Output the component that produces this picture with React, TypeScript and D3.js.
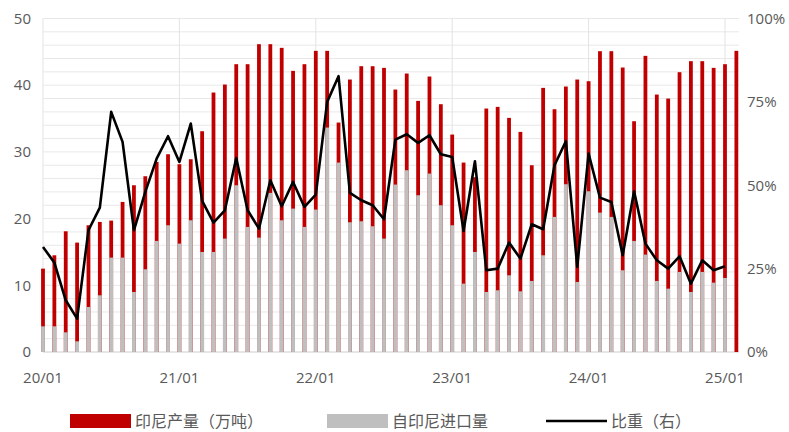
import React from "react";
import * as d3 from "d3";

const categories: string[] = [
  "2020-01","2020-02","2020-03","2020-04","2020-05","2020-06","2020-07","2020-08","2020-09","2020-10","2020-11","2020-12",
  "2021-01","2021-02","2021-03","2021-04","2021-05","2021-06","2021-07","2021-08","2021-09","2021-10","2021-11","2021-12",
  "2022-01","2022-02","2022-03","2022-04","2022-05","2022-06","2022-07","2022-08","2022-09","2022-10","2022-11","2022-12",
  "2023-01","2023-02","2023-03","2023-04","2023-05","2023-06","2023-07","2023-08","2023-09","2023-10","2023-11","2023-12",
  "2024-01","2024-02","2024-03","2024-04","2024-05","2024-06","2024-07","2024-08","2024-09","2024-10","2024-11","2024-12",
  "2025-01","2025-02",
];

// 印尼产量（万吨）
const production: number[] = [
  12.5, 14.5, 18.1, 16.4, 19.0, 19.5, 19.7, 22.5, 25.0, 26.35, 28.5, 29.65,
  28.15, 28.9, 33.1, 38.9, 40.1, 43.15, 43.15, 46.15, 46.15, 45.6, 42.15, 43.15,
  45.15, 45.15, 34.4, 40.85, 42.85, 42.85, 42.6, 39.35, 41.75, 37.65, 41.3, 37.15,
  32.6, 28.4, 26.2, 36.5, 36.75, 35.1, 33.0, 28.0, 39.6, 36.4, 39.8, 40.85,
  40.6, 45.1, 45.1, 42.65, 34.6, 44.4, 38.6, 38.0, 41.95, 43.6, 43.6, 42.6,
  43.15, 45.15,
];

// 自印尼进口量
const imports: (number | null)[] = [
  3.85, 3.85, 2.95, 1.6, 6.75, 8.5, 14.15, 14.15, 9.0, 12.4, 16.65, 19.0,
  16.25, 19.75, 15.0, 15.0, 17.0, 25.0, 18.75, 17.15, 23.85, 19.75, 21.5, 18.75,
  21.35, 33.65, 28.4, 19.45, 19.6, 18.85, 17.0, 25.1, 27.25, 23.5, 26.75, 22.0,
  19.0, 10.25, 15.0, 9.0, 9.25, 11.5, 9.1, 10.65, 14.5, 20.25, 25.15, 10.5,
  24.1, 20.9, 20.25, 12.25, 16.65, 14.6, 10.65, 9.5, 12.0, 9.0, 12.0, 10.4,
  11.1, null,
];

// 比重（右）, %
const ratio: (number | null)[] = [
  31.5, 26.8, 15.5, 10.0, 36.5, 43.3, 72.0, 63.0, 36.5, 48.0, 58.0, 64.7,
  57.0, 68.5, 45.3, 38.8, 42.5, 58.2, 42.5, 37.0, 51.5, 43.7, 51.0, 43.5,
  47.2, 75.0, 82.7, 47.7, 45.5, 44.0, 39.8, 63.7, 65.3, 62.7, 65.0, 59.3,
  58.5, 36.3, 57.2, 24.5, 25.0, 32.8, 28.0, 38.3, 36.8, 56.0, 63.2, 25.5,
  59.5, 46.3, 45.0, 29.0, 48.2, 32.5, 27.5, 25.0, 28.7, 20.5, 27.5, 24.5,
  25.7, null,
];

const xTickLabels: string[] = ["20/01", "21/01", "22/01", "23/01", "24/01", "25/01"];
const xTickCats: string[] = ["2020-01", "2021-01", "2022-01", "2023-01", "2024-01", "2025-01"];
const leftTicks: number[] = [0, 10, 20, 30, 40, 50];
const rightTicks: number[] = [0, 25, 50, 75, 100];
const legendLabels: string[] = ["印尼产量（万吨）", "自印尼进口量", "比重（右）"];

const W = 789;
const H = 432;
const RED = "#C00000";
const GREY = "#BFBFBF";
const TXT = "#595959";
const NUM_FONT = "'Open Sans', 'Noto Sans', sans-serif";
const CJK_FONT = "'Noto Sans CJK SC', sans-serif";

export default function App() {
  const x = d3.scaleLinear().domain([0, 60]).range([43, 725]);
  const xi = (c: string) => x(categories.indexOf(c));
  const y = d3.scaleLinear().domain([0, 50]).range([352, 18.5]);
  const yR = d3.scaleLinear().domain([0, 100]).range([352, 18.5]);
  const barW = 3.8;
  const grid = d3.range(0, 51, 2);

  const line = d3
    .line<number | null>()
    .defined((d) => d != null)
    .x((_, i) => x(i))
    .y((d) => yR(d as number));

  return (
    <div style={{ position: "fixed", left: 0, top: 0, width: W, height: H, background: "#fff" }}>
      <svg width={W} height={H} style={{ display: "block" }}>
        {/* horizontal grid */}
        {grid.map((g) => (
          <line key={"g" + g} x1={43} x2={739} y1={y(g)} y2={y(g)} stroke="#E8E8E8" strokeWidth={1} />
        ))}
        {/* vertical year grid */}
        {xTickCats.map((c) => (
          <line key={"v" + c} x1={xi(c)} x2={xi(c)} y1={y(50)} y2={y(0)} stroke="#E3E3E3" strokeWidth={1} />
        ))}
        <line x1={43} x2={739} y1={y(0)} y2={y(0)} stroke="#D9D9D9" strokeWidth={1} />

        {/* red production bars */}
        {production.map((v, i) => (
          <rect key={"r" + i} x={x(i) - barW / 2} width={barW} y={y(v)} height={y(0) - y(v)} fill={RED} />
        ))}
        {/* grey import bars */}
        {imports.map((v, i) =>
          v == null ? null : (
            <rect key={"i" + i} x={x(i) - barW / 2} width={barW} y={y(v)} height={y(0) - y(v)} fill={GREY} />
          )
        )}
        {/* ratio line */}
        <path d={line(ratio) || ""} fill="none" stroke="#000" strokeWidth={2.6} strokeLinejoin="round" />

        {/* left axis labels */}
        {leftTicks.map((t) => (
          <text key={"l" + t} x={31} y={y(t)} dy="0.35em" textAnchor="end" fontFamily={NUM_FONT} fontSize={15} fill={TXT}>
            {t}
          </text>
        ))}
        {/* right axis labels */}
        {rightTicks.map((t) => (
          <text key={"rt" + t} x={747} y={yR(t)} dy="0.35em" textAnchor="start" fontFamily={NUM_FONT} fontSize={15} fill={TXT}>
            {t + "%"}
          </text>
        ))}
        {/* x labels */}
        {xTickCats.map((c, k) => (
          <text key={"x" + c} x={xi(c)} y={378} dy="0.35em" textAnchor="middle" fontFamily={NUM_FONT} fontSize={15} fill={TXT}>
            {xTickLabels[k]}
          </text>
        ))}

        {/* legend */}
        <rect x={70} y={414} width={61} height={14} fill={RED} />
        <text x={135} y={421} dy="0.35em" fontFamily={CJK_FONT} fontSize={16} fill={TXT}>
          {legendLabels[0]}
        </text>
        <rect x={327} y={414} width={61} height={14} fill={GREY} />
        <text x={392} y={421} dy="0.35em" fontFamily={CJK_FONT} fontSize={16} fill={TXT}>
          {legendLabels[1]}
        </text>
        <line x1={546} x2={607} y1={421} y2={421} stroke="#000" strokeWidth={2.6} />
        <text x={611} y={421} dy="0.35em" fontFamily={CJK_FONT} fontSize={16} fill={TXT}>
          {legendLabels[2]}
        </text>
      </svg>
    </div>
  );
}
